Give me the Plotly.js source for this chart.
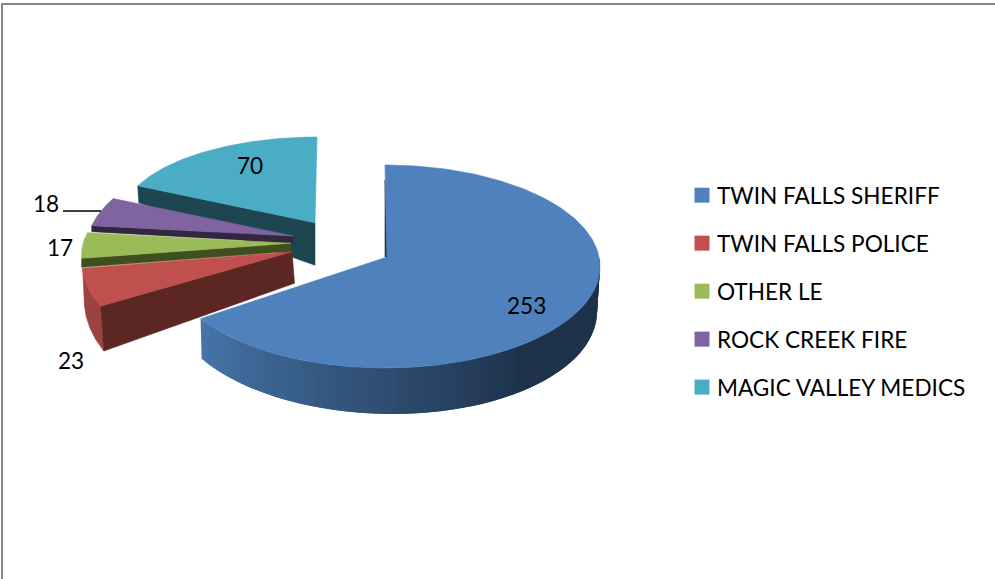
<!DOCTYPE html>
<html>
<head>
<meta charset="utf-8">
<script src="https://cdn.plot.ly/plotly-3.0.1.min.js"></script>
<style>html,body{margin:0;padding:0;background:#fff;overflow:hidden}#chart{width:995px;height:579px}</style>
</head>
<body>
<div id="chart"></div>
<script>
// ---- data ----
var categories = ["TWIN FALLS SHERIFF", "TWIN FALLS POLICE", "OTHER LE", "ROCK CREEK FIRE", "MAGIC VALLEY MEDICS"];
var values = [253, 23, 17, 18, 70];

// ---- styles ----
var topColors = ["#4f81bd", "#c0504d", "#9bbb59", "#8064a2", "#4bacc6"];
var radialWallColors = ["#1e3248", "#5c2623", "#404f20", "#33263f", "#1d4651"];
var rimWallColors = ["#4471a4", "#9c4340", "#7f9a49", "#6a5387", "#3c8da3"];
var FONT = "Lato, sans-serif";
var FONT_SIZE = 22.6;

// ---- projection of each exploded slice on the page (oblique 3-D view) ----
var views = [
  {cx:385, cy:266.5, a:215, b:101.5, k:0,  ax:387, ay:257,   wallDx:[-3,1], wallDy:[47,40], apexDx:0, apexDy:0},
  {cx:292, cy:251,   a:208, b:107,   k:25, ax:292, ay:251.7, wallDx:[2,3], wallDy:[42,45], apexDx:2.5, apexDy:31.5},
  {cx:291, cy:243.6, a:208, b:92,    k:25, ax:291, ay:243.3, wallDx:[0,0], wallDy:[9,9],   apexDx:0, apexDy:8},
  {cx:293, cy:237,   a:205, b:95,    k:19, ax:293, ay:236,   wallDx:[0,0], wallDy:[6,6],   apexDx:0, apexDy:7},
  {cx:317, cy:219,   a:196, b:82,    k:0,  ax:315, ay:222.7, wallDx:[1,0], wallDy:[17,0],  apexDx:0, apexDy:42.5}
];

var total = values.reduce(function(s, v){ return s + v; }, 0);
function rim(v, deg){
  var t = deg * Math.PI / 180;
  return [v.cx + v.a * Math.sin(t) + v.k * Math.cos(t), v.cy - v.b * Math.cos(t)];
}
function range(a0, a1, n){
  var out = [];
  for (var i = 0; i <= n; i++) out.push(a0 + (a1 - a0) * i / n);
  return out;
}
function poly(pts, color, w){
  return {type:"scatter", mode:"lines", x:pts.map(function(p){return p[0];}).concat([pts[0][0]]),
    y:pts.map(function(p){return p[1];}).concat([pts[0][1]]), fill:"toself", fillcolor:color,
    line:{color:color, width:w === undefined ? 0.6 : w}, showlegend:false, hoverinfo:"skip"};
}
function mix(c1, c2, f){
  var p = function(c, i){ return parseInt(c.substr(1 + 2 * i, 2), 16); };
  var o = "#";
  for (var i = 0; i < 3; i++){
    var h = Math.round(p(c1, i) + (p(c2, i) - p(c1, i)) * f).toString(16);
    o += h.length < 2 ? "0" + h : h;
  }
  return o;
}

// slice angles come from the values, clockwise from 12 o'clock
var spans = [], acc = 0;
values.forEach(function(v){ spans.push([acc, acc + v / total * 360]); acc += v / total * 360; });

function faceTrace(i){
  var v = views[i], n = Math.max(24, Math.round(spans[i][1] - spans[i][0]));
  var pts = [[v.ax, v.ay]].concat(range(spans[i][0], spans[i][1], n).map(function(d){ return rim(v, d); }));
  return poly(pts, topColors[i]);
}
function radialWall(i, deg, dIdx){
  var v = views[i], p = rim(v, deg);
  return poly([[v.ax, v.ay], p, [p[0] + v.wallDx[dIdx], p[1] + v.wallDy[dIdx]], [v.ax + v.apexDx, v.ay + v.apexDy]], radialWallColors[i]);
}
// bottom edge of the blue slice's curved wall
function blueBottom(d){
  var f = (spans[0][1] - d) / 149;            // 0 at the front-left corner
  var p = rim(views[0], d);
  var dy = 40 + 7 * Math.sin(Math.min(1, f * 1.6) * Math.PI / 2) - 3.2 * Math.max(0, f - 0.6);
  return [p[0] + 1 - 4 * Math.min(1, f * f * 1.2), p[1] + dy];
}

var traces = [];
// teal
traces.push(radialWall(4, spans[4][0], 0));
traces.push(faceTrace(4));
// purple
traces.push(radialWall(3, spans[3][0], 0));
traces.push(faceTrace(3));
// green
traces.push(radialWall(2, spans[2][0], 0));
traces.push(faceTrace(2));
// red : curved wall, radial wall, top
(function(){
  var v = views[1], ds = range(spans[1][0], spans[1][1], 24);
  var top = ds.map(function(d){ return rim(v, d); });
  var bot = ds.map(function(d, j){ var p = rim(v, d); return [p[0] + 3 - j * 0.05, p[1] + 45 - j * 0.3]; }).reverse();
  traces.push(poly(top.concat(bot), rimWallColors[1]));
})();
traces.push(radialWall(1, spans[1][0], 1));
traces.push(faceTrace(1));
// blue : sliver at 12 o'clock, curved wall made of overlapping shaded strips, top
traces.push(poly([[385, 180], [387, 257], [385, 257]], radialWallColors[0]));
(function(){
  var ds = range(spans[0][1], 85, 77);
  for (var j = 0; j < ds.length - 1; j++){
    var f = j / (ds.length - 1);
    var col = f < 0.62 ? mix("#4674a9", "#1f344e", f / 0.62) : "#1e3249";
    var end = ds[Math.min(j + 2, ds.length - 1)];
    traces.push(poly([rim(views[0], ds[j]), rim(views[0], end), blueBottom(end), blueBottom(ds[j])], col, 0));
  }
})();
traces.push(faceTrace(0));

// legend entries
categories.forEach(function(c, i){
  traces.push({type:"scatter", mode:"markers", x:[-50], y:[-50], name:c, legendgroup:c,
    marker:{symbol:"square", size:15, color:topColors[i]}, hoverinfo:"skip"});
});

// data labels
var labelPos = [[526,305],[71,360],[60,247],[46,203],[250,165]];
var annotations = values.map(function(v, i){
  return {xref:"x", yref:"y", x:labelPos[i][0], y:labelPos[i][1], text:String(v), showarrow:false,
    xanchor:"center", yanchor:"middle", font:{family:FONT, size:FONT_SIZE, color:"#000"}};
});

var layout = {
  width:995, height:579, margin:{l:0, r:0, t:0, b:0, pad:0},
  paper_bgcolor:"#fff", plot_bgcolor:"#fff",
  xaxis:{range:[0,995], visible:false, fixedrange:true},
  yaxis:{range:[579,0], visible:false, fixedrange:true},
  showlegend:true,
  legend:{x:677/995, y:1-174/579, xanchor:"left", yanchor:"top", bgcolor:"rgba(0,0,0,0)",
    tracegroupgap:15.6, font:{family:FONT, size:FONT_SIZE, color:"#000"}},
  annotations:annotations,
  shapes:[
    {type:"line", xref:"x", yref:"y", x0:2, y0:579, x1:2, y1:4, line:{color:"#868686", width:2}},
    {type:"line", xref:"x", yref:"y", x0:1, y0:4, x1:995, y1:4, line:{color:"#868686", width:2}},
    {type:"line", xref:"x", yref:"y", x0:63, y0:211, x1:101, y1:211, line:{color:"#000", width:1.5}}
  ]
};
Plotly.newPlot("chart", traces, layout, {displayModeBar:false, staticPlot:true}).then(function(gd){
  // the reference keeps its swatches closer to the legend text
  gd.querySelectorAll(".legend .legendpoints").forEach(function(n){ n.setAttribute("transform", "translate(5,0)"); });
});
</script>
</body>
</html>
